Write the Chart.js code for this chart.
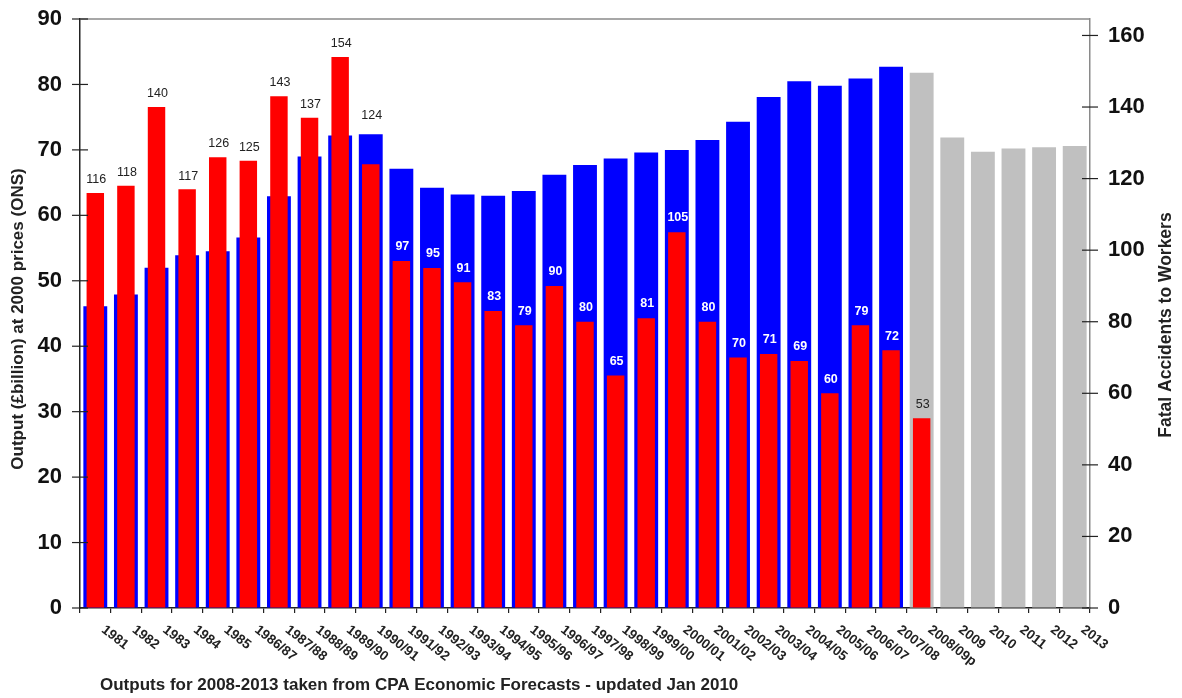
<!DOCTYPE html>
<html>
<head>
<meta charset="utf-8">
<script src="https://cdn.jsdelivr.net/npm/chart.js@4.4.0/dist/chart.umd.min.js"></script>
<style>
  html, body { margin: 0; padding: 0; background: #fff; }
  #wrap { width: 1182px; height: 698px; }
</style>
</head>
<body>
<div id="wrap"><canvas id="grafik" width="1182" height="698"></canvas></div>
<script>
// periods on the x axis
const years = [
  "1981", "1982", "1983", "1984", "1985", "1986/87", "1987/88", "1988/89", "1989/90",
  "1990/91", "1991/92", "1992/93", "1993/94", "1994/95", "1995/96", "1996/97", "1997/98",
  "1998/99", "1999/00", "2000/01", "2001/02", "2002/03", "2003/04", "2004/05", "2005/06",
  "2006/07", "2007/08", "2008/09p", "2009", "2010", "2011", "2012", "2013"
];
// construction output, £billion at 2000 prices (left axis)
const output = [
  46.1, 47.9, 52.0, 53.9, 54.5, 56.6, 62.9, 69.0, 72.2, 72.4, 67.1, 64.2, 63.2, 63.0,
  63.7, 66.2, 67.7, 68.7, 69.6, 70.0, 71.5, 74.3, 78.1, 80.5, 79.8, 80.9, 82.7,
  81.8, 71.9, 69.7, 70.2, 70.4, 70.6
];
// fatal accidents to workers (right axis)
const fatal = [
  116, 118, 140, 117, 126, 125, 143, 137, 154, 124, 97, 95, 91, 83, 79, 90, 80,
  65, 81, 105, 80, 70, 71, 69, 60, 79, 72, 53, null, null, null, null, null
];
const forecastFrom = 27; // 2008/09p onwards: grey bars
const outputTicks = [0, 10, 20, 30, 40, 50, 60, 70, 80, 90];
const fatalTicks = [0, 20, 40, 60, 80, 100, 120, 140, 160];
const fatalMax = 164.6;

const FONT = "'Liberation Sans', Arial, sans-serif";

const outputColors = years.map((y, i) => i < forecastFrom ? '#0000ff' : '#c0c0c0');

function line(ctx, x1, y1, x2, y2) {
  ctx.beginPath(); ctx.moveTo(x1, y1); ctx.lineTo(x2, y2); ctx.stroke();
}

// fixed box sizes so the plot area lands where the original one is
function fixBox(width) {
  return s => { s.width = width; s.paddingTop = 0; s.paddingBottom = 0; };
}

const decor = {
  id: 'decor',
  afterDraw(chart) {
    const { ctx, chartArea: a, scales } = chart;
    const yl = scales.y, yr = scales.y2, x = scales.x;
    ctx.save();

    // top frame
    ctx.strokeStyle = '#8a8a8a';
    ctx.lineWidth = 1.5;
    line(ctx, a.left, a.top, a.right, a.top);

    // tick marks crossing both value axes
    ctx.strokeStyle = '#222';
    ctx.lineWidth = 1.2;
    yl.ticks.forEach(t => {
      const py = yl.getPixelForValue(t.value);
      line(ctx, a.left - 8, py, a.left + 8, py);
    });
    yr.ticks.forEach(t => {
      const py = yr.getPixelForValue(t.value);
      line(ctx, a.right - 8, py, a.right + 8, py);
    });

    // value labels on the red bars
    const red = chart.getDatasetMeta(0), blue = chart.getDatasetMeta(1);
    ctx.textAlign = 'center';
    ctx.textBaseline = 'bottom';
    fatal.forEach((v, i) => {
      if (v == null) return;
      const r = red.data[i], b = blue.data[i];
      let ly, color, weight;
      if (i >= forecastFrom) {
        ly = r.y - 8; color = '#222'; weight = 'normal';
      } else if (r.y <= b.y) {
        ly = r.y - 7; color = '#222'; weight = 'normal';
      } else if (r.y - b.y < 40) {
        ly = b.y - 12; color = '#222'; weight = 'normal';
      } else {
        ly = r.y - 8; color = '#fff'; weight = 'bold';
      }
      ctx.font = weight + ' 12.5px ' + FONT;
      ctx.fillStyle = color;
      ctx.fillText(String(v), r.x + 1, ly);
    });

    // slanted period labels
    ctx.fillStyle = '#222';
    ctx.font = 'bold 13.5px ' + FONT;
    ctx.textAlign = 'left';
    ctx.textBaseline = 'top';
    years.forEach((lab, i) => {
      const px = x.getPixelForValue(i);
      ctx.save();
      ctx.translate(px + 12, a.bottom + 15);
      ctx.rotate(38 * Math.PI / 180);
      ctx.fillText(lab, 0, 0);
      ctx.restore();
    });

    // axis titles
    ctx.font = 'bold 17px ' + FONT;
    ctx.textAlign = 'center';
    ctx.textBaseline = 'middle';
    ctx.save();
    ctx.translate(18, 319);
    ctx.rotate(-Math.PI / 2);
    ctx.fillText('Output (£billion) at 2000 prices (ONS)', 0, 0);
    ctx.restore();
    ctx.font = 'bold 17.5px ' + FONT;
    ctx.save();
    ctx.translate(1166, 325);
    ctx.rotate(-Math.PI / 2);
    ctx.fillText('Fatal Accidents to Workers', 0, 0);
    ctx.restore();

    // footnote
    ctx.font = 'bold 17px ' + FONT;
    ctx.textAlign = 'left';
    ctx.textBaseline = 'alphabetic';
    ctx.fillText('Outputs for 2008-2013 taken from CPA Economic Forecasts - updated Jan 2010', 100, 690);

    ctx.restore();
  }
};

new Chart(document.getElementById('grafik'), {
  type: 'bar',
  data: {
    labels: years,
    datasets: [
      {
        label: 'Fatal Accidents to Workers',
        data: fatal,
        yAxisID: 'y2',
        backgroundColor: '#ff0000',
        barPercentage: 0.57,
        categoryPercentage: 1,
        grouped: false,
        order: 0
      },
      {
        label: 'Output',
        data: output,
        yAxisID: 'y',
        backgroundColor: outputColors,
        barPercentage: 0.78,
        categoryPercentage: 1,
        grouped: false,
        order: 1
      }
    ]
  },
  options: {
    responsive: false,
    animation: false,
    devicePixelRatio: 1,
    layout: { padding: { top: 19, left: 0, right: 0, bottom: 0 } },
    plugins: { legend: { display: false }, tooltip: { enabled: false } },
    scales: {
      x: {
        offset: true,
        ticks: { display: false },
        grid: { offset: true, drawOnChartArea: false, drawTicks: true, tickLength: 5, color: '#222', lineWidth: 1.2 },
        border: { color: '#222', width: 1.5 },
        afterFit: s => { s.height = 90; s.paddingLeft = 0; s.paddingRight = 0; }
      },
      y: {
        position: 'left',
        min: outputTicks[0],
        max: outputTicks[outputTicks.length - 1],
        ticks: { stepSize: outputTicks[1] - outputTicks[0], padding: 18, color: '#111', font: { family: FONT, size: 22, weight: 'bold' } },
        grid: { drawOnChartArea: false, drawTicks: false },
        border: { color: '#222', width: 1.5 },
        afterFit: fixBox(80)
      },
      y2: {
        position: 'right',
        min: fatalTicks[0],
        max: fatalMax,
        ticks: { stepSize: fatalTicks[1] - fatalTicks[0], includeBounds: false, padding: 18, color: '#111', font: { family: FONT, size: 22, weight: 'bold' } },
        grid: { drawOnChartArea: false, drawTicks: false },
        border: { color: '#8a8a8a', width: 1.5 },
        afterFit: fixBox(92)
      }
    }
  },
  plugins: [decor]
});
</script>
</body>
</html>
